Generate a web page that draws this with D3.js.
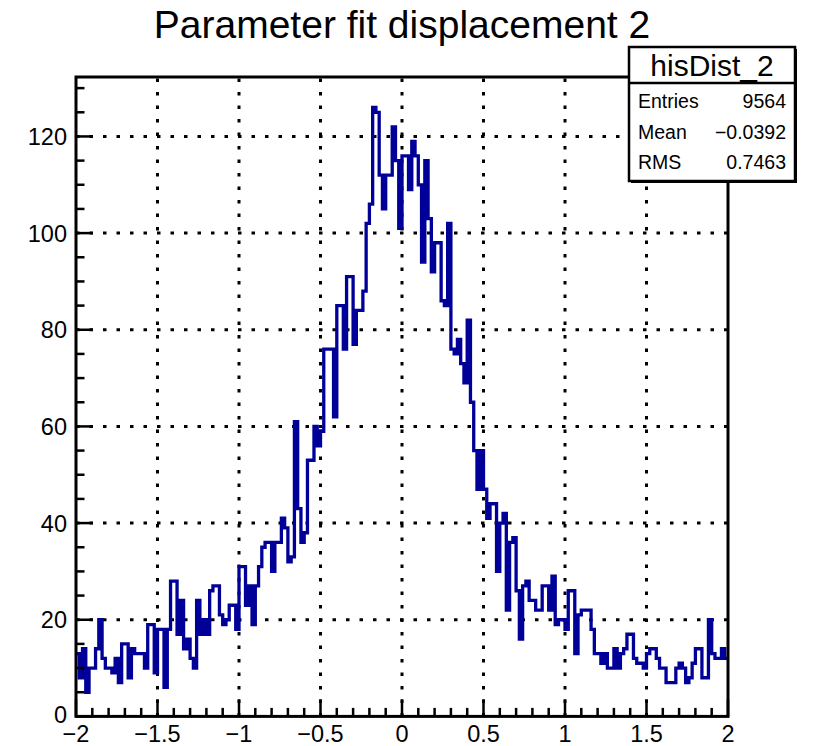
<!DOCTYPE html>
<html><head><meta charset="utf-8">
<script src="https://cdn.jsdelivr.net/npm/d3@7"></script>
<style>
body{margin:0;background:#fff}
svg{display:block}
text{font-family:"Liberation Sans",Arial,Helvetica,sans-serif;fill:#000}
</style>
</head><body>
<svg id="c" width="816" height="746"></svg>
<script>
// Histogram range and bin contents (200 bins of 0.02)
const binLow = -2, binHigh = 2;
const counts = [
  13, 8,14, 5,10,10,14,20,12,10, 10, 9,12, 7,15,15, 8,14,13,13,
  13,10,19,19, 9,18,18, 6,18,28, 28,17,24,14,16,12,10,24,17,20,
  17,26,27,27,21,19,20,23,23,18, 31,31,23,27,19,27,31,35,36,36,
  30,36,36,41,39,32,33,61,43,36, 38,53,53,60,56,59,76,76,76,62,
  85,85,76,91,91,77,84,84,88,102, 106,126,125,112,105,112,112,122,115,101,
  116,116,109,119,116,110,94,115,103,92, 98,98,86,85,102,76,75,78,73,69,
  82,65,55,47,55,47,41,44,44,30, 40,42,22,36,37,26,16,27,28,24,
  24,22,22,27,27,22,29,19,20,20, 18,26,26,13,21,22,22,22,18,13,
  13,11,13,10,10,14,10,13,14,17, 17,12,11,11,10,13,14,14,12,10,
  10, 7, 7, 7,10,11,10, 7, 8,11, 14,14, 8, 8,20,13,12,12,14,12
];
const xMajorTicks = [-2, -1.5, -1, -0.5, 0, 0.5, 1, 1.5, 2];
const yMajorTicks = [0, 20, 40, 60, 80, 100, 120];
const xMinorStep = 0.1, yMinorStep = 5;
const title = "Parameter fit displacement 2";
const histName = "hisDist_2";
const statsLabels = ["Entries", "Mean", "RMS"];
const statsValues = ["9564", "\u22120.0392", "0.7463"];

const svg = d3.select("#c");
const frame = {left: 76, right: 728, top: 77, bottom: 716.4};
const binWidth = (binHigh - binLow) / counts.length;
const yMax = 1.05 * d3.max(counts);

const x = d3.scaleLinear().domain([binLow, binHigh]).range([frame.left, frame.right]);
const y = d3.scaleLinear().domain([0, yMax]).range([frame.bottom, frame.top]);
const fmt = d3.format("~g");

// dotted grid
const grid = svg.append("g").attr("stroke", "#000").attr("stroke-width", 3)
  .attr("stroke-dasharray", "3.5 10");
xMajorTicks.slice(1, -1).forEach(t => {
  grid.append("line").attr("x1", x(t)).attr("x2", x(t))
    .attr("y1", frame.bottom).attr("y2", frame.top);
});
yMajorTicks.slice(1).forEach(t => {
  grid.append("line").attr("x1", frame.left).attr("x2", frame.right)
    .attr("y1", y(t)).attr("y2", y(t));
});

// step outline of the histogram
const pts = [];
counts.forEach((c, i) => {
  const lo = binLow + i * binWidth;
  pts.push([lo, c], [lo + binWidth, c]);
});
const line = d3.line().x(d => x(d[0])).y(d => y(d[1]));
svg.append("path").attr("d", line(pts)).attr("fill", "none")
  .attr("stroke", "#000099").attr("stroke-width", 3.3)
  .attr("stroke-linejoin", "miter");

// frame
svg.append("rect").attr("x", frame.left).attr("y", frame.top)
  .attr("width", frame.right - frame.left).attr("height", frame.bottom - frame.top)
  .attr("fill", "none").attr("stroke", "#000").attr("stroke-width", 3);

// x ticks (inward)
const axes = svg.append("g").attr("stroke", "#000").attr("stroke-width", 2.5);
d3.range(binLow, binHigh + 1e-9, xMinorStep).forEach(t => {
  const major = xMajorTicks.some(m => Math.abs(m - t) < 1e-6);
  axes.append("line").attr("x1", x(t)).attr("x2", x(t))
    .attr("y1", frame.bottom).attr("y2", frame.bottom - (major ? 17 : 8.5));
});
// y ticks (inward)
d3.range(0, yMax, yMinorStep).forEach(t => {
  const major = t % 20 === 0;
  axes.append("line").attr("x1", frame.left).attr("x2", frame.left + (major ? 17 : 8.5))
    .attr("y1", y(t)).attr("y2", y(t));
});

// tick labels
svg.append("g").selectAll("text").data(xMajorTicks).join("text")
  .attr("x", d => x(d)).attr("y", 742).attr("text-anchor", "middle")
  .attr("font-size", 23.5).text(d => fmt(d));
svg.append("g").selectAll("text").data(yMajorTicks).join("text")
  .attr("x", 67).attr("y", d => y(d) - (d === 0 ? 2 : 0)).attr("dy", "0.36em")
  .attr("text-anchor", "end")
  .attr("font-size", 23.5).text(d => fmt(d));

// title
svg.append("text").attr("x", 402).attr("y", 38).attr("text-anchor", "middle")
  .attr("font-size", 39).text(title);

// statistics box
const box = {x: 629, y: 47, w: 166, h: 134, head: 36};
const sb = svg.append("g");
sb.append("rect").attr("x", box.x + 2).attr("y", box.y + 2).attr("width", box.w).attr("height", box.h)
  .attr("fill", "#000");
sb.append("rect").attr("x", box.x).attr("y", box.y).attr("width", box.w).attr("height", box.h)
  .attr("fill", "#fff").attr("stroke", "#000").attr("stroke-width", 2.5);
sb.append("line").attr("x1", box.x).attr("x2", box.x + box.w)
  .attr("y1", box.y + box.head).attr("y2", box.y + box.head)
  .attr("stroke", "#000").attr("stroke-width", 2.5);
sb.append("text").attr("x", box.x + box.w / 2).attr("y", box.y + 29)
  .attr("text-anchor", "middle").attr("font-size", 30).text(histName);
statsLabels.forEach((lab, i) => {
  const yy = box.y + box.head + 25 + i * 30.5;
  sb.append("text").attr("x", box.x + 9).attr("y", yy).attr("font-size", 19.5).text(lab);
  sb.append("text").attr("x", box.x + box.w - 9).attr("y", yy).attr("text-anchor", "end")
    .attr("font-size", 19.5).text(statsValues[i]);
});
</script>
</body></html>
